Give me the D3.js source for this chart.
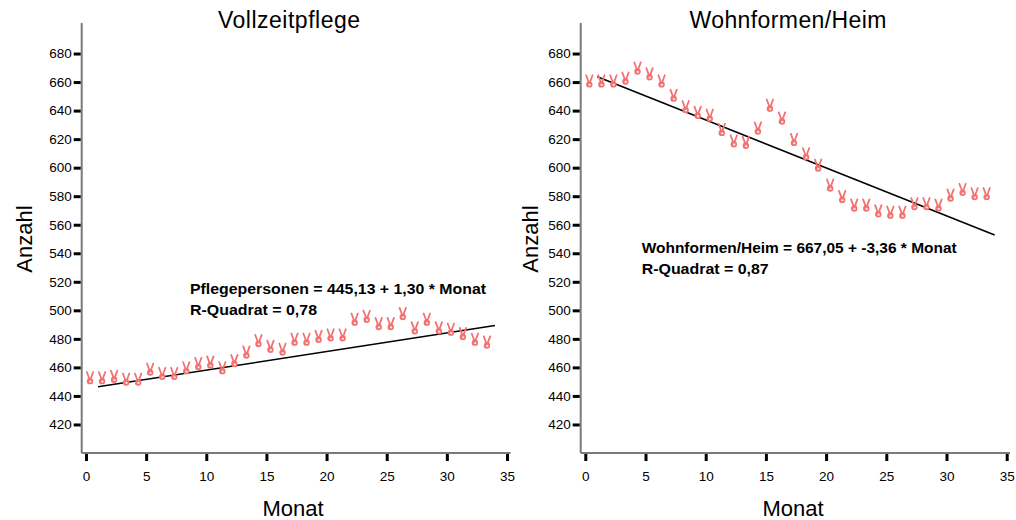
<!DOCTYPE html>
<html>
<head>
<meta charset="utf-8">
<script src="https://cdn.jsdelivr.net/npm/d3@7"></script>
<style>
  body { margin: 0; background: #fff; }
  svg { display: block; }
  text { font-family: "Liberation Sans", Arial, sans-serif; }
</style>
</head>
<body>
<svg id="chart" width="1016" height="520"></svg>
<script>
// ---------- data ----------
const months = [1,2,3,4,5,6,7,8,9,10,11,12,13,14,15,16,17,18,19,20,21,22,23,24,25,26,27,28,29,30,31,32,33,34];
const vollzeitpflege = [447,447,448,446,446,453,450,450,454,457,458,454,459,465,473,469,467,474,474,476,477,477,488,490,485,485,492,482,488,482,481,478,474,472];
const wohnformenHeim = [655,655,655,657,664,660,655,645,637,633,631,621,613,612,622,638,629,614,604,596,582,574,568,568,564,563,563,569,569,568,575,579,576,576];
const fitVollzeit = { intercept: 445.13, slope: 1.30 };
const fitHeim = { intercept: 667.05, slope: -3.36 };
const xTicks = [0,5,10,15,20,25,30,35];
const yTicks = [420,440,460,480,500,520,540,560,580,600,620,640,660,680];
const titles = ["Vollzeitpflege", "Wohnformen/Heim"];
const annotations = [
  ["Pflegepersonen = 445,13 + 1,30 * Monat", "R-Quadrat = 0,78"],
  ["Wohnformen/Heim = 667,05 + -3,36 * Monat", "R-Quadrat = 0,87"]
];

// ---------- layout ----------
const svg = d3.select("#chart");
const panels = [
  { x0: 86, x1: 507, axisX: 81.7, axisEnd: 510.5, titleX: 289, labelX: 32, monatX: 293,
    annX: 190, annY: 293.5, annW: [296, 127], values: vollzeitpflege, fit: fitVollzeit },
  { x0: 585.3, x1: 1006.7, axisX: 580.7, axisEnd: 1010, titleX: 788, labelX: 538, monatX: 793,
    annX: 641.7, annY: 252.5, annW: [315, 127], values: wohnformenHeim, fit: fitHeim }
];
const y = d3.scaleLinear().domain([400, 700]).range([453, 25]);
const axisGray = "#7a7a7a";
const markerColor = "#f27272";

// marker shape (victory-hand like glyph), local coords
const markerFingers = "M-3.2,-6.5 L-0.6,0.5 M3.2,-6.5 L0.6,0.5";

panels.forEach((p, i) => {
  const x = d3.scaleLinear().domain([0, 35]).range([p.x0, p.x1]);
  const g = svg.append("g");

  // title
  g.append("text").attr("x", p.titleX).attr("y", 28)
    .attr("text-anchor", "middle").attr("font-size", 23).attr("fill", "#000")
    .attr("textLength", i === 0 ? 142 : 197).attr("lengthAdjust", "spacing")
    .text(titles[i]);

  // axis lines
  g.append("line").attr("x1", p.axisX).attr("x2", p.axisX).attr("y1", 23).attr("y2", 453)
    .attr("stroke", axisGray).attr("stroke-width", 2);
  g.append("line").attr("x1", p.axisX).attr("x2", p.axisEnd).attr("y1", 453).attr("y2", 453)
    .attr("stroke", axisGray).attr("stroke-width", 2);

  // y axis
  const ya = g.append("g").attr("transform", `translate(${p.axisX - 1},0)`)
    .call(d3.axisLeft(y).tickValues(yTicks).tickSize(7).tickPadding(2).tickFormat(d3.format("d")));
  ya.select(".domain").remove();
  ya.selectAll(".tick line").attr("stroke", "#000").attr("stroke-width", 3);
  ya.selectAll(".tick text").attr("font-size", 13.5).attr("fill", "#000")
    .attr("font-family", "'Liberation Sans', Arial, sans-serif");

  // x axis
  const xa = g.append("g").attr("transform", `translate(0,454)`)
    .call(d3.axisBottom(x).tickValues(xTicks).tickSize(7).tickPadding(10).tickFormat(d3.format("d")));
  xa.select(".domain").remove();
  xa.selectAll(".tick line").attr("stroke", "#000").attr("stroke-width", 3);
  xa.selectAll(".tick text").attr("font-size", 13.5).attr("fill", "#000")
    .attr("font-family", "'Liberation Sans', Arial, sans-serif");

  // axis titles
  g.append("text").attr("transform", `translate(${p.labelX},239) rotate(-90)`)
    .attr("text-anchor", "middle").attr("font-size", 22).attr("fill", "#000").text("Anzahl");
  g.append("text").attr("x", p.monatX).attr("y", 516)
    .attr("text-anchor", "middle").attr("font-size", 22).attr("fill", "#000").text("Monat");

  // regression line
  const mFirst = months[0], mLast = months[months.length - 1];
  g.append("line")
    .attr("x1", x(mFirst)).attr("y1", y(p.fit.intercept + p.fit.slope * mFirst))
    .attr("x2", x(mLast)).attr("y2", y(p.fit.intercept + p.fit.slope * mLast))
    .attr("stroke", "#000").attr("stroke-width", 1.5);

  // markers
  const pts = g.selectAll(".pt").data(months.map((m, k) => ({ m, v: p.values[k] })))
    .enter().append("g").attr("class", "pt")
    .attr("transform", d => `translate(${x(d.m) - 8},${y(d.v) - 7.4})`);
  pts.append("path").attr("d", markerFingers)
    .attr("stroke", markerColor).attr("stroke-width", 1.8).attr("stroke-linecap", "round").attr("fill", "none");
  pts.append("ellipse").attr("cx", 0).attr("cy", 2.6).attr("rx", 3.2).attr("ry", 3.2)
    .attr("fill", markerColor);
  pts.append("ellipse").attr("cx", 0.3).attr("cy", 3).attr("rx", 1.2).attr("ry", 1.1)
    .attr("fill", "#fff").attr("opacity", 0.8);

  // annotation
  annotations[i].forEach((t, k) => {
    g.append("text").attr("x", p.annX).attr("y", p.annY + k * 21.5)
      .attr("font-size", 14.5).attr("font-weight", "bold").attr("fill", "#000")
      .attr("textLength", p.annW[k]).attr("lengthAdjust", "spacingAndGlyphs").text(t);
  });
});
</script>
</body>
</html>
